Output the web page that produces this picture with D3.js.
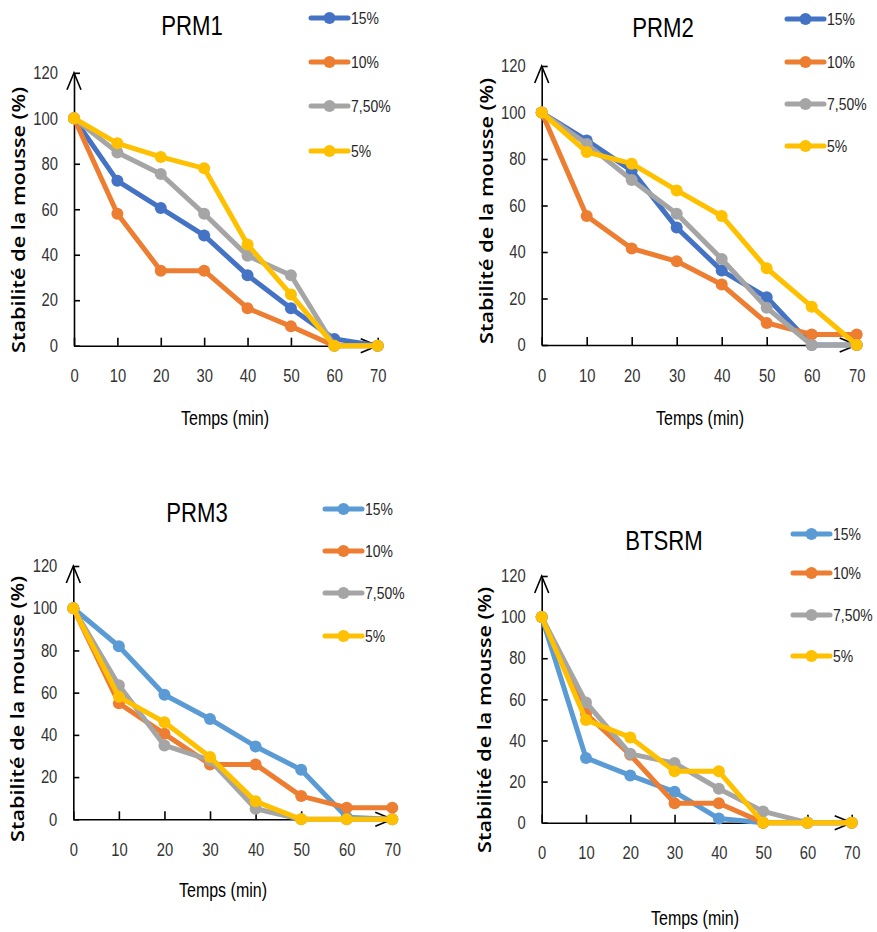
<!DOCTYPE html>
<html>
<head>
<meta charset="utf-8">
<script src="https://cdn.jsdelivr.net/npm/d3@7"></script>
<style>
  body { margin: 0; background: #fff; }
  svg { display: block; }
  .narrow { font-family: "Liberation Sans Narrow", "Arial Narrow", "Liberation Sans", sans-serif; }
</style>
</head>
<body>
<svg id="chart" width="877" height="932"></svg>
<script>
// data
const times = [0, 10, 20, 30, 40, 50, 60, 70];
const seriesNames = ['15%', '10%', '7,50%', '5%'];
const yTicks = [0, 20, 40, 60, 80, 100, 120];
const xTicks = [0, 10, 20, 30, 40, 50, 60, 70];

const prm1_15 = [100, 72.5, 60.5, 48.5, 31, 16.5, 3, 0];
const prm1_10 = [100, 58, 33, 33, 16.5, 8.5, 0, 0];
const prm1_75 = [100, 85, 75.5, 58, 39.5, 31, 0, 0];
const prm1_5 = [100, 89, 83, 78, 44.5, 22.5, 0, 0];

const prm2_15 = [100, 88, 75, 50.5, 32, 20.5, 0, 0];
const prm2_10 = [100, 55.5, 41.5, 36, 26, 9.5, 4.5, 4.5];
const prm2_75 = [100, 86.5, 71, 56.5, 37, 16, 0, 0];
const prm2_5 = [100, 83, 78, 66.5, 55.5, 33, 16.5, 0];

const prm3_15 = [100, 82, 59, 47.5, 34.5, 23.5, 1, 0];
const prm3_10 = [100, 55, 40.5, 26, 26, 11, 5.5, 5.5];
const prm3_75 = [100, 63.5, 35, 28, 5, 0, 0, 0];
const prm3_5 = [100, 58, 46, 29.5, 8.5, 0, 0, 0];

const bts_15 = [100, 31.5, 23, 15, 2, 0, 0, 0];
const bts_10 = [100, 53, 33, 9.5, 9.5, 0, 0, 0];
const bts_75 = [100, 58.5, 33.5, 29, 16.5, 5.5, 0, 0];
const bts_5 = [100, 50, 41.5, 25, 25, 0, 0, 0];

// layout of the four panels
const panels = [
  { title: 'PRM1', values: [prm1_15, prm1_10, prm1_75, prm1_5], blue: '#4472C4',
    x0: 74, x1: 377.7, y0: 345.7, y1: 72.8, titleX: 192, titleY: 35,
    legX: 311, legY: [18, 62, 106, 151], ylabX: 19, ylabY: 220, tX: 225, tY: 425 },
  { title: 'PRM2', values: [prm2_15, prm2_10, prm2_75, prm2_5], blue: '#4472C4',
    x0: 541.7, x1: 856.7, y0: 345, y1: 66, titleX: 663, titleY: 37,
    legX: 787, legY: [19, 62, 104, 146], ylabX: 487, ylabY: 211, tX: 700, tY: 425 },
  { title: 'PRM3', values: [prm3_15, prm3_10, prm3_75, prm3_5], blue: '#5B9BD5',
    x0: 73.3, x1: 392.3, y0: 819.3, y1: 566, titleX: 197, titleY: 522,
    legX: 325, legY: [509, 551, 593, 636], ylabX: 18, ylabY: 709, tX: 223, tY: 897 },
  { title: 'BTSRM', values: [bts_15, bts_10, bts_75, bts_5], blue: '#5B9BD5',
    x0: 541.7, x1: 851.7, y0: 822.7, y1: 576, titleX: 664, titleY: 550,
    legX: 793, legY: [534, 573, 615, 656], ylabX: 485, ylabY: 720, tX: 695, tY: 925 }
];

const otherColors = ['#ED7D31', '#A5A5A5', '#FFC000'];

const svg = d3.select('#chart');

function drawPanel(p) {
  const colors = [p.blue].concat(otherColors);
  const x = d3.scaleLinear().domain([0, 70]).range([p.x0, p.x1]);
  const y = d3.scaleLinear().domain([0, 120]).range([p.y0, p.y1]);
  const g = svg.append('g');

  // axes, ticks pointing inside
  const yAxis = d3.axisLeft(y).tickValues(yTicks).tickSizeInner(-6).tickSizeOuter(0).tickPadding(16);
  const xAxis = d3.axisBottom(x).tickValues(xTicks).tickSizeInner(-8).tickSizeOuter(0).tickPadding(24);

  const ya = g.append('g').attr('transform', `translate(${p.x0},0)`).call(yAxis);
  const xa = g.append('g').attr('transform', `translate(0,${p.y0})`).call(xAxis);
  [ya, xa].forEach(a => {
    a.selectAll('path, line').attr('stroke', '#000').attr('stroke-width', 1.6);
    a.selectAll('text').attr('class', 'narrow').attr('font-size', 18).attr('fill', '#333');
  });
  xa.selectAll('text').attr('dy', '0.71em');

  // open arrow heads at the axis ends
  g.append('path')
    .attr('d', `M${p.x0 - 7},${y(120) + 17}L${p.x0},${y(120)}L${p.x0 + 7},${y(120) + 17}`)
    .attr('fill', 'none').attr('stroke', '#000').attr('stroke-width', 1.6);
  g.append('path')
    .attr('d', `M${x(70) - 17},${p.y0 - 7}L${x(70)},${p.y0}L${x(70) - 17},${p.y0 + 7}`)
    .attr('fill', 'none').attr('stroke', '#000').attr('stroke-width', 1.6);

  const line = d3.line().x((d, i) => x(times[i])).y(d => y(d));

  p.values.forEach((vals, s) => {
    g.append('path')
      .attr('d', line(vals))
      .attr('fill', 'none')
      .attr('stroke', colors[s])
      .attr('stroke-width', 5)
      .attr('stroke-linejoin', 'round');
    g.selectAll(null)
      .data(vals)
      .enter()
      .append('circle')
      .attr('cx', (d, i) => x(times[i]))
      .attr('cy', d => y(d))
      .attr('r', 6)
      .attr('fill', colors[s]);
  });

  // title
  g.append('text')
    .attr('class', 'narrow')
    .attr('x', p.titleX).attr('y', p.titleY)
    .attr('text-anchor', 'middle')
    .attr('font-size', 27)
    .attr('fill', '#000')
    .text(p.title);

  // legend
  seriesNames.forEach((name, s) => {
    const ly = p.legY[s];
    g.append('line')
      .attr('x1', p.legX).attr('x2', p.legX + 37)
      .attr('y1', ly).attr('y2', ly)
      .attr('stroke', colors[s]).attr('stroke-width', 5).attr('stroke-linecap', 'round');
    g.append('circle')
      .attr('cx', p.legX + 18.5).attr('cy', ly).attr('r', 6)
      .attr('fill', colors[s]);
    g.append('text')
      .attr('class', 'narrow')
      .attr('x', p.legX + 40).attr('y', ly)
      .attr('dy', '0.36em')
      .attr('font-size', 17)
      .attr('fill', '#262626')
      .text(name);
  });

  // axis titles
  g.append('text')
    .attr('transform', `translate(${p.ylabX},${p.ylabY}) rotate(-90)`)
    .attr('text-anchor', 'middle')
    .attr('dy', '0.35em')
    .attr('font-family', '"Open Sans", sans-serif')
    .attr('font-weight', 600)
    .attr('font-size', 18.5)
    .attr('textLength', 266)
    .attr('lengthAdjust', 'spacingAndGlyphs')
    .attr('fill', '#000')
    .text('Stabilité de la mousse (%)');

  g.append('text')
    .attr('class', 'narrow')
    .attr('x', p.tX).attr('y', p.tY)
    .attr('text-anchor', 'middle')
    .attr('font-size', 19.5)
    .attr('fill', '#000')
    .text('Temps (min)');
}

panels.forEach(drawPanel);

// no narrow font is installed, so squeeze the texts to a condensed width
svg.selectAll('text.narrow').each(function() {
  const w = this.getComputedTextLength();
  d3.select(this)
    .attr('textLength', w * 0.82)
    .attr('lengthAdjust', 'spacingAndGlyphs');
});
</script>
</body>
</html>
